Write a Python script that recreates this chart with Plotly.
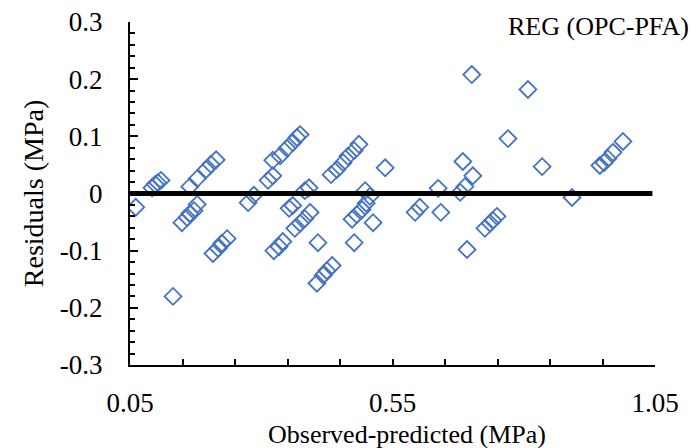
import plotly.graph_objects as go

# Residuals of the regression model for OPC-PFA mixes
observed_predicted = [
    0.061, 0.092, 0.098, 0.103, 0.109, 0.132, 0.149, 0.159, 0.164, 0.172,
    0.178, 0.164, 0.178, 0.195, 0.204, 0.214, 0.208, 0.218, 0.225, 0.235,
    0.275, 0.286, 0.313, 0.322, 0.322, 0.336, 0.349, 0.360, 0.368, 0.374,
    0.324, 0.334, 0.341, 0.353, 0.360, 0.364, 0.374, 0.383, 0.393, 0.383,
    0.391, 0.408, 0.406, 0.418, 0.425, 0.435, 0.433, 0.444, 0.456, 0.465,
    0.477, 0.486, 0.473, 0.482, 0.492, 0.500, 0.477, 0.513, 0.498, 0.507,
    0.536, 0.593, 0.602, 0.637, 0.642, 0.679, 0.688, 0.684, 0.703, 0.692,
    0.701, 0.726, 0.736, 0.741, 0.749, 0.770, 0.808, 0.835, 0.892, 0.945,
    0.953, 0.960, 0.970, 0.989,
]
residuals = [
    -0.024, 0.010, 0.016, 0.019, 0.023, -0.180, -0.051, -0.042, -0.035, -0.030,
    -0.019, 0.012, 0.026, 0.042, 0.051, 0.059, -0.105, -0.096, -0.087, -0.079,
    -0.016, -0.003, 0.023, 0.031, 0.058, 0.066, 0.079, 0.089, 0.098, 0.103,
    -0.100, -0.093, -0.084, -0.026, -0.021, -0.061, -0.052, -0.044, -0.033, 0.005,
    0.010, -0.086, -0.157, -0.143, -0.135, -0.126, 0.033, 0.042, 0.054, 0.065,
    0.075, 0.086, -0.045, -0.037, -0.028, -0.017, -0.086, -0.051, 0.005, -0.005,
    0.045, -0.033, -0.024, 0.009, -0.033, 0.002, 0.012, 0.056, 0.031, -0.098,
    0.208, -0.061, -0.052, -0.047, -0.040, 0.096, 0.182, 0.047, -0.007, 0.049,
    0.054, 0.061, 0.072, 0.091,
]

# Zero reference line
zero_x = [0.05, 1.045]
zero_y = [0, 0]

x_tick_vals = [0.05, 0.55, 1.05]
x_tick_text = ["0.05", "0.55", "1.05"]
y_tick_vals = [0.3, 0.2, 0.1, 0.0, -0.1, -0.2, -0.3]
y_tick_text = ["0.3", "0.2", "0.1", "0", "-0.1", "-0.2", "-0.3"]

FONT = "Times New Roman, Liberation Serif, serif"
BLUE = "#4472C4"

fig = go.Figure()
fig.add_trace(go.Scatter(
    x=observed_predicted, y=residuals, mode="markers",
    marker=dict(symbol="diamond-open", size=13, color=BLUE,
                line=dict(color=BLUE, width=1.8)),
    showlegend=False, hoverinfo="x+y",
))
fig.add_trace(go.Scatter(
    x=zero_x, y=zero_y, mode="lines",
    line=dict(color="black", width=5), showlegend=False, hoverinfo="skip",
))

fig.update_layout(
    width=696, height=448,
    margin=dict(l=130, r=41, t=22, b=83),
    paper_bgcolor="white", plot_bgcolor="white",
    font=dict(family=FONT, color="black", size=26),
    xaxis=dict(
        range=[0.05, 1.05], tickvals=x_tick_vals, ticktext=x_tick_text,
        automargin=False,
        ticks="inside", ticklen=6, tickwidth=2, tickcolor="black",
        minor=dict(tick0=0.05, dtick=0.1, ticks="inside", ticklen=6,
                   tickwidth=2, tickcolor="black"),
        showline=True, linecolor="black", linewidth=2,
        showgrid=False, zeroline=False,
        tickfont=dict(size=27), ticklabelstandoff=13,
    ),
    yaxis=dict(
        range=[-0.3, 0.3], tickvals=y_tick_vals, ticktext=y_tick_text,
        automargin=False,
        ticks="inside", ticklen=8, tickwidth=2, tickcolor="black",
        minor=dict(tick0=0, dtick=0.02, ticks="inside", ticklen=5,
                   tickwidth=2, tickcolor="black"),
        showline=True, linecolor="black", linewidth=2,
        showgrid=False, zeroline=False,
        tickfont=dict(size=27), ticklabelstandoff=20,
        title=dict(text="Residuals (MPa)",
                   font=dict(size=28), standoff=8),
    ),
    annotations=[
        dict(text="REG (OPC-PFA)", xref="paper", yref="paper",
             x=1.068, y=1.035, xanchor="right", yanchor="top",
             showarrow=False, font=dict(size=26)),
        dict(text="Observed-predicted (MPa)", xref="paper", yref="paper",
             x=0.528, y=-0.203, xanchor="center", yanchor="middle",
             showarrow=False, font=dict(size=26)),
    ],
)

fig.write_html("out.html")
